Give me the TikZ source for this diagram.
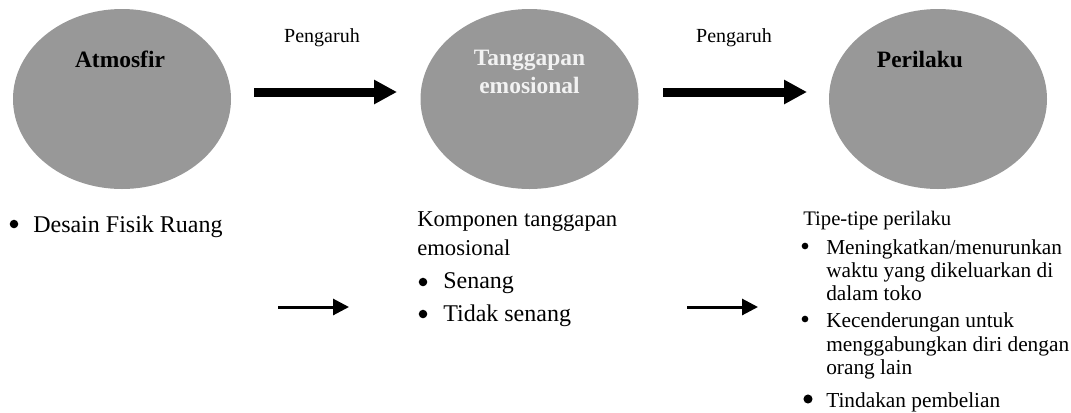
\documentclass[tikz,border=0pt]{standalone}
\usepackage{fontspec}
\setmainfont{Liberation Serif}
\usetikzlibrary{shapes.geometric,arrows.meta}
\definecolor{ellgray}{RGB}{152,152,152}
\definecolor{lighttxt}{RGB}{242,242,242}
\begin{document}
\begin{tikzpicture}[x=0.75pt,y=-0.75pt,
  ell/.style={ellipse, fill=ellgray, draw=none, minimum width=163.5pt, minimum height=135pt, inner sep=0pt},
  elabel/.style={anchor=base, inner sep=0pt, font=\fontsize{17.6}{20}\selectfont\bfseries},
  biglbl/.style={anchor=base, inner sep=0pt, font=\fontsize{15}{18}\selectfont},
  bigarrow/.style={line width=6.75pt, -{Triangle[length=17.25pt,width=17.25pt]}},
  smallarrow/.style={line width=2.25pt, -{Triangle[length=12pt,width=12pt]}},
  txtL/.style={anchor=base west, inner sep=0pt, font=\fontsize{18}{21}\selectfont},
  txtM/.style={anchor=base west, inner sep=0pt, font=\fontsize{17}{20}\selectfont},
  txtR/.style={anchor=base west, inner sep=0pt, font=\fontsize{16}{19}\selectfont},
  txtT/.style={anchor=base west, inner sep=0pt, font=\fontsize{15.5}{18}\selectfont},
  dotL/.style={circle, fill=black, inner sep=0pt, minimum size=6.4pt},
  dotS/.style={circle, fill=black, inner sep=0pt, minimum size=5pt},
  dotB/.style={circle, fill=black, inner sep=0pt, minimum size=6.8pt}
]
\useasboundingbox (0,0) rectangle (1071,412);

% ellipses
\node[ell] (atm) at (122,99) {};
\node[ell] (tang) at (529.5,99) {};
\node[ell] (peri) at (938,99) {};

\node[elabel] (atmL) at (120,67) {Atmosfir};
\node[elabel, text=lighttxt] (tangL1) at (529.5,65) {Tanggapan};
\node[elabel, text=lighttxt] (tangL2) at (529.5,93) {emosional};
\node[elabel] (periL) at (920,67) {Perilaku};

% top labels
\node[biglbl] (p1) at (322,42) {Pengaruh};
\node[biglbl] (p2) at (734,42) {Pengaruh};

% big arrows
\coordinate (a1s) at (254,92);
\coordinate (a1e) at (397,92);
\coordinate (a2s) at (663,92);
\coordinate (a2e) at (807,92);
\draw[bigarrow] (a1s) -- (a1e);
\draw[bigarrow] (a2s) -- (a2e);

% small arrows
\coordinate (a3s) at (278,307);
\coordinate (a3e) at (349,307);
\coordinate (a4s) at (687,307);
\coordinate (a4e) at (758,307);
\draw[smallarrow] (a3s) -- (a3e);
\draw[smallarrow] (a4s) -- (a4e);

% left text
\node[dotL] (b1) at (14,224) {};
\node[txtL] (d1) at (33,232) {Desain Fisik Ruang};

% middle text
\node[txtM] (m1) at (417,226) {\makebox[150pt][s]{Komponen tanggapan}};
\node[txtM] (m2) at (417,255) {emosional};
\node[dotL] (mb1) at (423,282) {};
\node[txtL] (m3) at (443,288) {Senang};
\node[dotL] (mb2) at (423,314) {};
\node[txtL] (m4) at (443,321) {Tidak senang};

% right text
\node[txtT] (r0) at (803,225) {Tipe-tipe perilaku};
\node[dotS] (rb1) at (805,246) {};
\node[txtR] (r1) at (826,254) {Meningkatkan/menurunkan};
\node[txtR] (r2) at (826,277) {waktu yang dikeluarkan di};
\node[txtR] (r3) at (826,300) {dalam toko};
\node[dotS] (rb2) at (805,319) {};
\node[txtR] (r4) at (826,327) {Kecenderungan untuk};
\node[txtR] (r5) at (826,351) {menggabungkan diri dengan};
\node[txtR] (r6) at (826,374) {orang lain};
\node[dotB] (rb3) at (808,399) {};
\node[txtR] (r7) at (826,407) {Tindakan pembelian};
\end{tikzpicture}
\end{document}
